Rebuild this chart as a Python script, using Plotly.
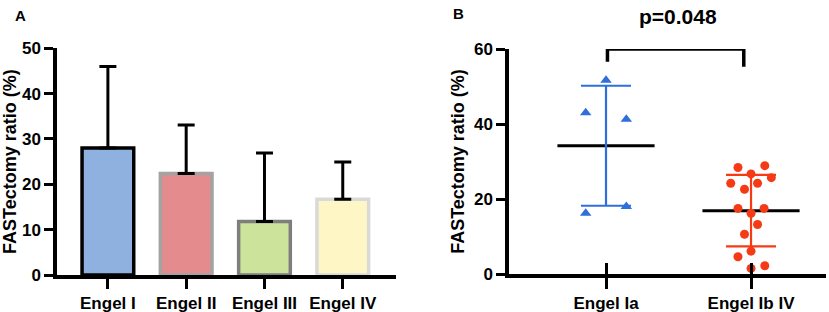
import plotly.graph_objects as go

# ---------- Data ----------
# Panel A
a_categories = ["Engel I", "Engel II", "Engel III", "Engel IV"]
a_means = [28.0, 22.4, 11.8, 16.7]
a_sd = [18.0, 10.7, 15.1, 8.2]
a_fill = ["#8FB1E0", "#E48B8D", "#CBE39A", "#FFF6C6"]
a_outline = ["#000000", "#A3A3A3", "#7E7E7E", "#D9D9D9"]
a_yticks = [0, 10, 20, 30, 40, 50]

# Panel B
b_categories = ["Engel Ia", "Engel Ib IV"]
b_ia_values = [51.7, 43.0, 41.3, 16.2, 18.0]
b_ia_jitter = [0.0, -0.14, 0.14, -0.14, 0.14]
b_ib_values = [28.4, 28.9, 26.7, 25.7, 24.2, 24.2, 22.6, 17.5, 17.5, 16.2,
               13.2, 10.6, 6.1, 4.6, 1.5, 2.2]
b_ib_jitter = [-0.09, 0.095, 0.0, 0.14, -0.14, 0.045, -0.045, -0.09, 0.09, 0.0,
               0.045, -0.045, 0.0, -0.09, 0.0, 0.095]
b_means = [34.2, 16.9]
b_sd = [16.0, 9.55]
b_colors = ["#2F6EDD", "#F53B15"]
b_yticks = [0, 20, 40, 60]
b_bracket_y = [56.6, 60, 60, 55.3]
b_pvalue = "p=0.048"

FONT = "Arial, Liberation Sans, sans-serif"

fig = go.Figure()

# ---------- Panel A: bars ----------
a_x = list(range(len(a_categories)))
fig.add_trace(go.Bar(
    x=a_x, y=a_means, width=0.66,
    marker=dict(color=a_fill, line=dict(color=a_outline, width=3.5)),
    error_y=dict(type="data", array=a_sd, arrayminus=[0] * len(a_sd), symmetric=False,
                 color="black", thickness=3, width=8.5),
    xaxis="x", yaxis="y", showlegend=False, hoverinfo="skip",
))

# ---------- Panel B ----------
half_mean = 0.335
for i, m in enumerate(b_means):
    fig.add_trace(go.Scatter(
        x=[i - half_mean, i + half_mean], y=[m, m], mode="lines",
        line=dict(color="black", width=3), xaxis="x2", yaxis="y2",
        showlegend=False, hoverinfo="skip",
    ))
for i, (m, s) in enumerate(zip(b_means, b_sd)):
    fig.add_trace(go.Scatter(
        x=[i], y=[m], mode="markers", marker=dict(size=1, color=b_colors[i], opacity=0),
        error_y=dict(type="data", array=[s], color=b_colors[i], thickness=2.2, width=25),
        xaxis="x2", yaxis="y2", showlegend=False, hoverinfo="skip",
    ))

fig.add_trace(go.Scatter(
    x=[0 + j for j in b_ia_jitter], y=b_ia_values, mode="markers",
    marker=dict(symbol="triangle-up", size=10, color=b_colors[0]),
    xaxis="x2", yaxis="y2", showlegend=False, hoverinfo="skip", cliponaxis=False,
))
fig.add_trace(go.Scatter(
    x=[1 + j for j in b_ib_jitter], y=b_ib_values, mode="markers",
    marker=dict(symbol="circle", size=9, color=b_colors[1]),
    xaxis="x2", yaxis="y2", showlegend=False, hoverinfo="skip", cliponaxis=False,
))

# significance bracket
fig.add_trace(go.Scatter(
    x=[0.01, 0.01, 0.95, 0.95], y=b_bracket_y, mode="lines",
    line=dict(color="black", width=3.5), xaxis="x2", yaxis="y2",
    showlegend=False, hoverinfo="skip", cliponaxis=False,
))

W, H = 829, 312
def px_x(p):
    return p / W
def px_y(p):
    return (H - p) / H

axis_common = dict(
    showgrid=False, zeroline=False, showline=True, linecolor="black", linewidth=3.5,
    ticks="outside", tickcolor="black", tickwidth=3, automargin=False,
    tickfont=dict(family=FONT, size=17, color="black", weight="bold"),
)
title_font = dict(family=FONT, size=18, color="black", weight="bold")

fig.update_layout(
    width=W, height=H,
    margin=dict(l=0, r=0, t=0, b=0, autoexpand=False),
    paper_bgcolor="white", plot_bgcolor="white",
    font=dict(family=FONT, color="black"),
    xaxis=dict(
        **axis_common, domain=[px_x(57), px_x(396)], anchor="y",
        range=[-0.65, 3.68], tickvals=a_x, ticktext=a_categories, ticklen=10,
    ),
    yaxis=dict(
        **axis_common, domain=[px_y(275), px_y(48.3)], anchor="x",
        range=[0, 50], tickvals=a_yticks, ticklen=9,
        title=dict(text="FASTectomy ratio (%)", standoff=6, font=title_font),
    ),
    xaxis2=dict(
        **axis_common, domain=[px_x(509), px_x(826)], anchor="y2",
        range=[-0.669, 1.517], tickvals=[0, 1], ticktext=b_categories, ticklen=11,
    ),
    xaxis3=dict(
        showgrid=False, zeroline=False, showline=False, overlaying="x2", anchor="y2",
        range=[-0.669, 1.517], tickvals=[0, 1], ticks="inside", ticklen=11,
        tickwidth=3, tickcolor="black", showticklabels=False, automargin=False,
    ),
    yaxis2=dict(
        **axis_common, domain=[px_y(274), px_y(49)], anchor="x2",
        range=[0, 60], tickvals=b_yticks, ticklen=9,
        title=dict(text="FASTectomy ratio (%)", standoff=6, font=title_font),
    ),
    annotations=[
        dict(text="A", x=px_x(20), y=px_y(15), xref="paper", yref="paper",
             xanchor="center", yanchor="middle",
             showarrow=False, font=dict(family=FONT, size=15, weight="bold")),
        dict(text="B", x=px_x(458), y=px_y(14), xref="paper", yref="paper",
             xanchor="center", yanchor="middle",
             showarrow=False, font=dict(family=FONT, size=15, weight="bold")),
        dict(text=b_pvalue, x=px_x(678), y=px_y(16), xref="paper", yref="paper",
             xanchor="center", yanchor="middle",
             showarrow=False, font=dict(family=FONT, size=21, weight="bold")),
    ],
)

# dummy invisible trace so overlay axis is drawn
fig.add_trace(go.Scatter(x=[0], y=[0], xaxis="x3", yaxis="y2", mode="markers",
                         marker=dict(opacity=0), showlegend=False, hoverinfo="skip"))

fig.write_html(
    "out.html",
    config={"displayModeBar": False},
    post_script="document.body.style.margin='0';document.body.style.overflow='hidden';",
)
